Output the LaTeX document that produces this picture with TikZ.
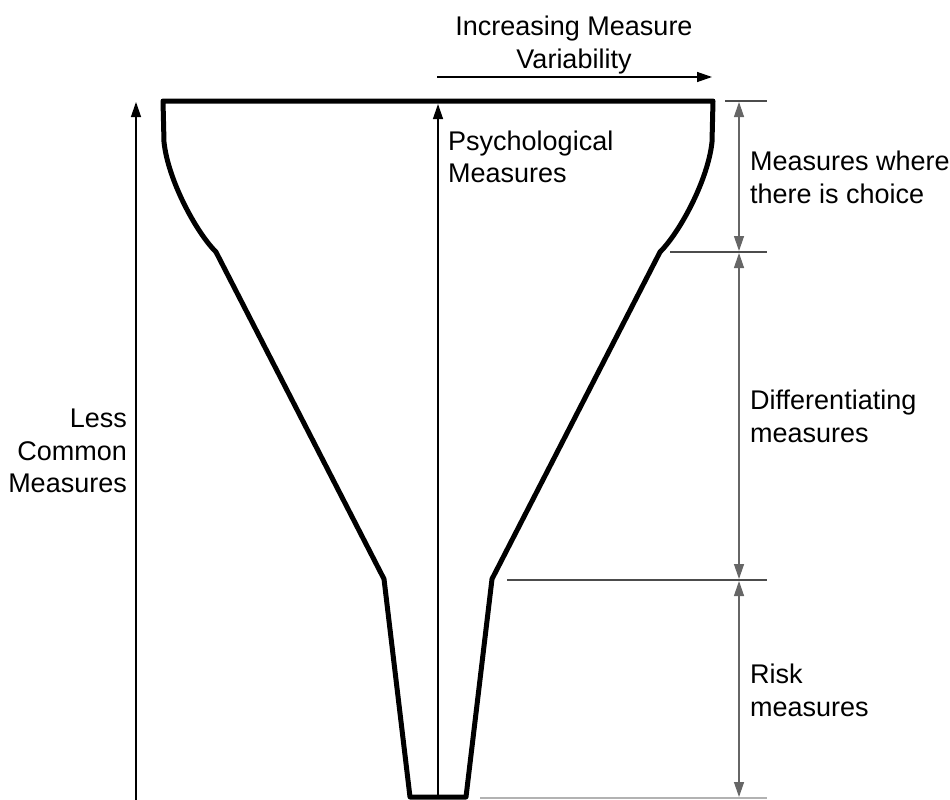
\documentclass[tikz,border=0pt]{standalone}
\usepackage{fontspec}
\setmainfont{Liberation Sans}
\usetikzlibrary{arrows.meta}
\begin{document}
\begin{tikzpicture}[x=1pt,y=-1pt,
  funnel/.style={line width=5pt,line join=round,line cap=round},
  axis/.style={line width=1.3pt,-{Triangle[length=15pt,width=10pt]}},
  dim/.style={line width=1.3pt,draw=black!60,{Triangle[length=15pt,width=10pt]}-{Triangle[length=15pt,width=10pt]}},
  tick/.style={line width=1.1pt,draw=black!70},
  lbl/.style={inner sep=0pt,font=\fontsize{27}{32.5}\selectfont}]
\useasboundingbox (0,0) rectangle (950,800);

% funnel outline points
\coordinate (tl) at (163,101);
\coordinate (tr) at (713,101);
\coordinate (l1) at (164,142);
\coordinate (r1) at (712,142);
\coordinate (l2) at (216,252);
\coordinate (r2) at (660,252);
\coordinate (l3) at (384,579);
\coordinate (r3) at (492,579);
\coordinate (l4) at (410,797);
\coordinate (r4) at (466,797);

\draw[funnel] (r1) -- (tr) -- (tl) -- (l1)
  .. controls (168,180) and (196,232) .. (l2) -- (l3) -- (l4) -- (r4) -- (r3) -- (r2)
  .. controls (680,232) and (708,180) .. (r1);

% central and left axes
\coordinate (cb) at (438,797);
\coordinate (ct) at (438,104);
\draw[axis] (cb) -- (ct);
\coordinate (lb) at (136,800);
\coordinate (lt) at (136,102);
\draw[axis] (lb) -- (lt);

% variability arrow
\coordinate (va) at (437,77);
\coordinate (vb) at (712,77);
\draw[axis] (va) -- (vb);

% dimension ticks
\coordinate (t0a) at (725,101);  \coordinate (t0b) at (767,101);
\coordinate (t1a) at (670,252);  \coordinate (t1b) at (767,252);
\coordinate (t2a) at (507,580);  \coordinate (t2b) at (767,580);
\coordinate (t3a) at (480,798);  \coordinate (t3b) at (767,798);
\draw[tick] (t0a) -- (t0b);
\draw[tick] (t1a) -- (t1b);
\draw[tick] (t2a) -- (t2b);
\draw[tick,draw=black!30] (t3a) -- (t3b);

% dimension arrows
\coordinate (d0) at (739,102);
\coordinate (d1a) at (739,251);
\coordinate (d1b) at (739,253);
\coordinate (d2a) at (739,579);
\coordinate (d2b) at (739,581);
\coordinate (d3) at (739,797);
\draw[dim] (d0) -- (d1a);
\draw[dim] (d1b) -- (d2a);
\draw[dim] (d2b) -- (d3);

% labels
\node[lbl,anchor=north,align=center] (var) at (574,16) {Increasing Measure\\Variability};
\node[lbl,anchor=north west,align=left] (psy) at (448,130.5) {Psychological\\Measures};
\node[lbl,anchor=north west,align=left] (choice) at (750,151) {Measures where\\there is choice};
\node[lbl,anchor=north west,align=left] (diff) at (750,390) {Differentiating\\measures};
\node[lbl,anchor=north west,align=left] (risk) at (750,664) {Risk\\measures};
\node[lbl,anchor=north east,align=right] (less) at (127,409) {Less\\Common\\Measures};
\end{tikzpicture}
\end{document}
